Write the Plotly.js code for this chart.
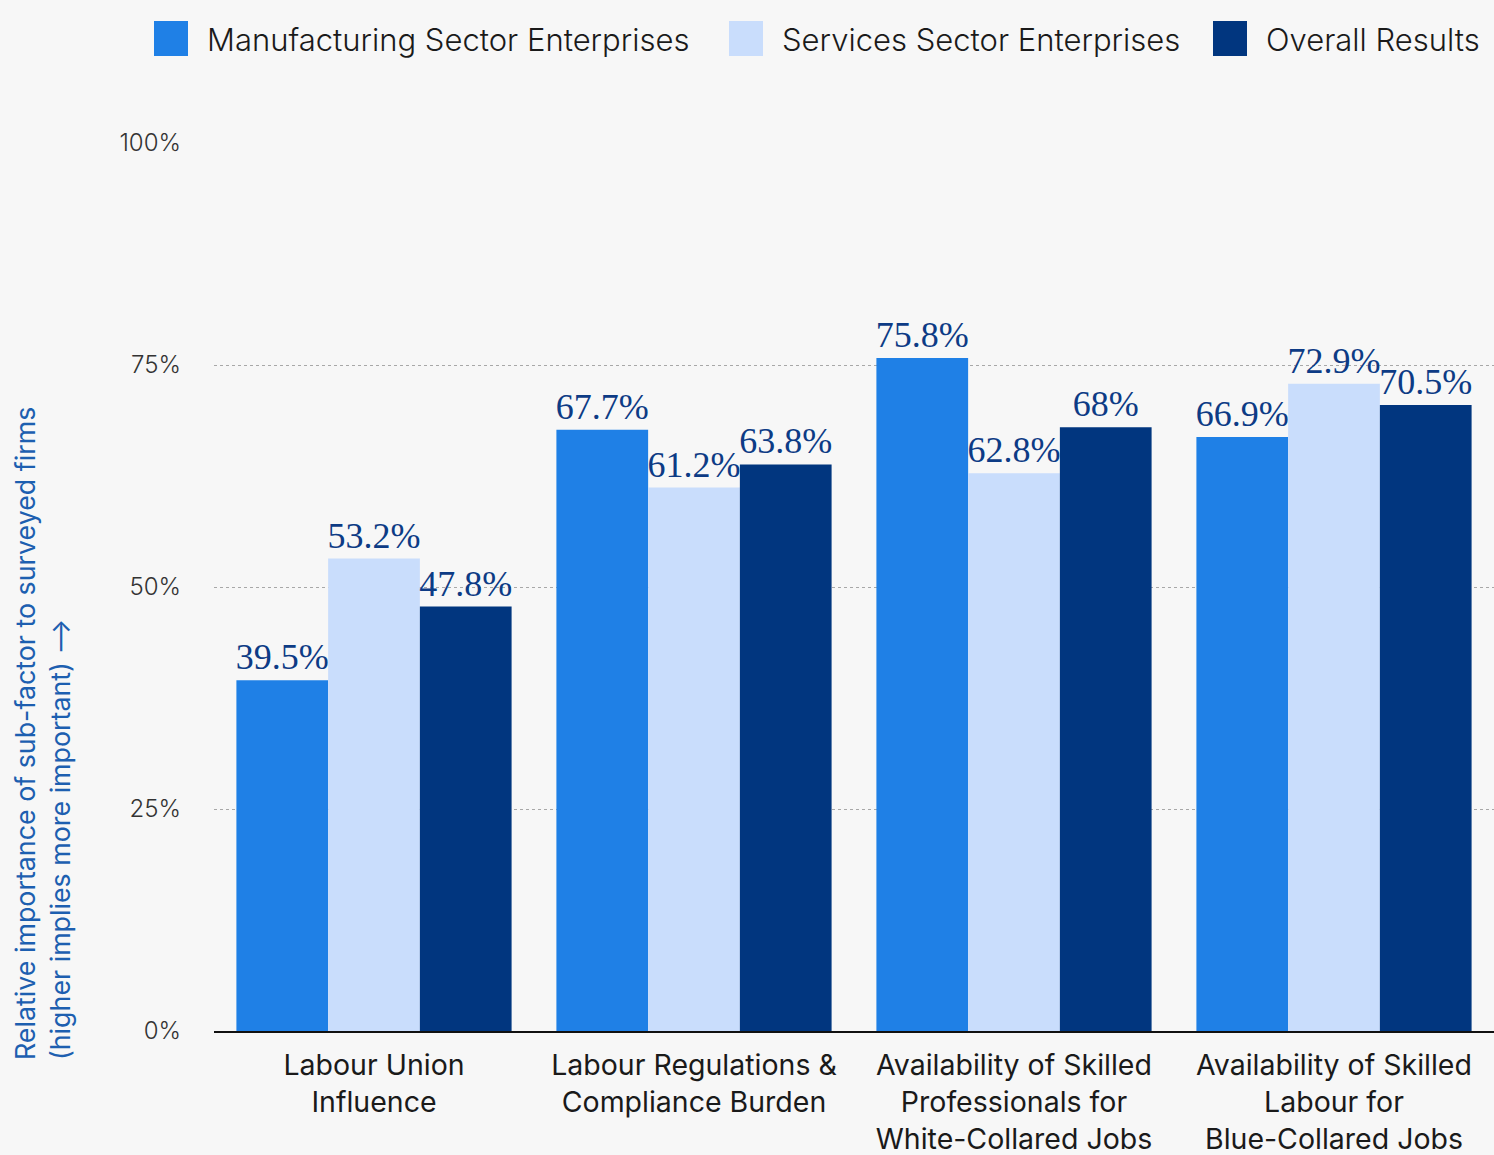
<!DOCTYPE html>
<html>
<head>
<meta charset="utf-8">
<script src="https://cdn.plot.ly/plotly-3.0.1.min.js"></script>
<style>html,body{margin:0;padding:0;background:#f7f7f7;}#chart{width:1494px;height:1155px;}</style>
</head>
<body>
<div id="chart"></div>
<script>
const categories = [
  "Labour Union<br>Influence",
  "Labour Regulations &<br>Compliance Burden",
  "Availability of Skilled<br>Professionals for<br>White-Collared Jobs",
  "Availability of Skilled<br>Labour for<br>Blue-Collared Jobs"
];
const seriesNames = ["Manufacturing Sector Enterprises", "Services Sector Enterprises", "Overall Results"];
const manufacturing = [39.5, 67.7, 75.8, 66.9];
const services = [53.2, 61.2, 62.8, 72.9];
const overall = [47.8, 63.8, 68.0, 70.5];
const yTicks = [0, 25, 50, 75, 100];
const yTitle = "Relative importance of sub-factor to surveyed firms<br>(higher implies more important) ⟶";

const colors = ["#1f80e6", "#c9ddfc", "#01367f"];
const seriesValues = [manufacturing, services, overall];
const fmt = v => (Math.round(v * 10) / 10).toString() + "%";

const traces = seriesValues.map((vals, i) => ({
  type: "bar",
  name: seriesNames[i],
  x: categories,
  y: vals,
  text: vals.map(fmt),
  textposition: "outside",
  constraintext: "none",
  cliponaxis: false,
  textfont: {family: "Liberation Serif", size: 36, color: "#0d3b85"},
  marker: {color: colors[i], line: {width: 0}},
  hoverinfo: "none",
  showlegend: false
}));

// Custom legend (large square keys)
const legendX = [154, 729, 1213];
const W = 1494, H = 1155, mL = 214, mR = 0, mT = 143, mB = 124;
const pw = W - mL - mR, ph = H - mT - mB;
const px = x => (x - mL) / pw;
const py = y => (H - mB - y) / ph;
const shapes = [], annotations = [];
seriesNames.forEach((n, i) => {
  shapes.push({type: "rect", xref: "paper", yref: "paper",
    x0: px(legendX[i]), x1: px(legendX[i] + 34), y0: py(56), y1: py(21),
    fillcolor: colors[i], line: {width: 0}});
  annotations.push({xref: "paper", yref: "paper", x: px(legendX[i] + 51), y: py(40),
    xanchor: "left", yanchor: "middle", showarrow: false, text: n,
    font: {family: "Inter", size: 31, color: "#1a1a1a", weight: 300}});
});
annotations.push({xref: "paper", yref: "paper", x: px(42), y: py(734),
  xanchor: "center", yanchor: "middle", showarrow: false, textangle: -90, align: "left",
  text: yTitle, font: {family: "Inter", size: 26.8, color: "#1d5fb0"}});

const layout = {
  width: W, height: H,
  margin: {l: mL, r: mR, t: mT, b: mB, pad: 0},
  paper_bgcolor: "#f7f7f7",
  plot_bgcolor: "#f7f7f7",
  barmode: "group",
  bargap: 0.14,
  bargroupgap: 0,
  font: {family: "Inter", color: "#222"},
  xaxis: {
    type: "category",
    showline: true, linecolor: "#111", linewidth: 2,
    showgrid: false, ticks: "",
    ticklabelstandoff: 8,
    tickfont: {family: "Inter", size: 28.5, color: "#1a1a1a"},
    fixedrange: true
  },
  yaxis: {
    range: [0, 100],
    tickvals: yTicks,
    ticktext: yTicks.map(v => v + "%"),
    showgrid: true, gridcolor: "#a8a8a8", gridwidth: 1, griddash: "dot",
    zeroline: false, showline: false, ticks: "",
    ticklabelstandoff: 32,
    tickfont: {family: "Inter", size: 24, color: "#333", weight: 300},
    fixedrange: true
  },
  shapes: shapes,
  annotations: annotations,
  showlegend: false
};

Plotly.newPlot("chart", traces, layout, {displayModeBar: false, staticPlot: true});
</script>
</body>
</html>
